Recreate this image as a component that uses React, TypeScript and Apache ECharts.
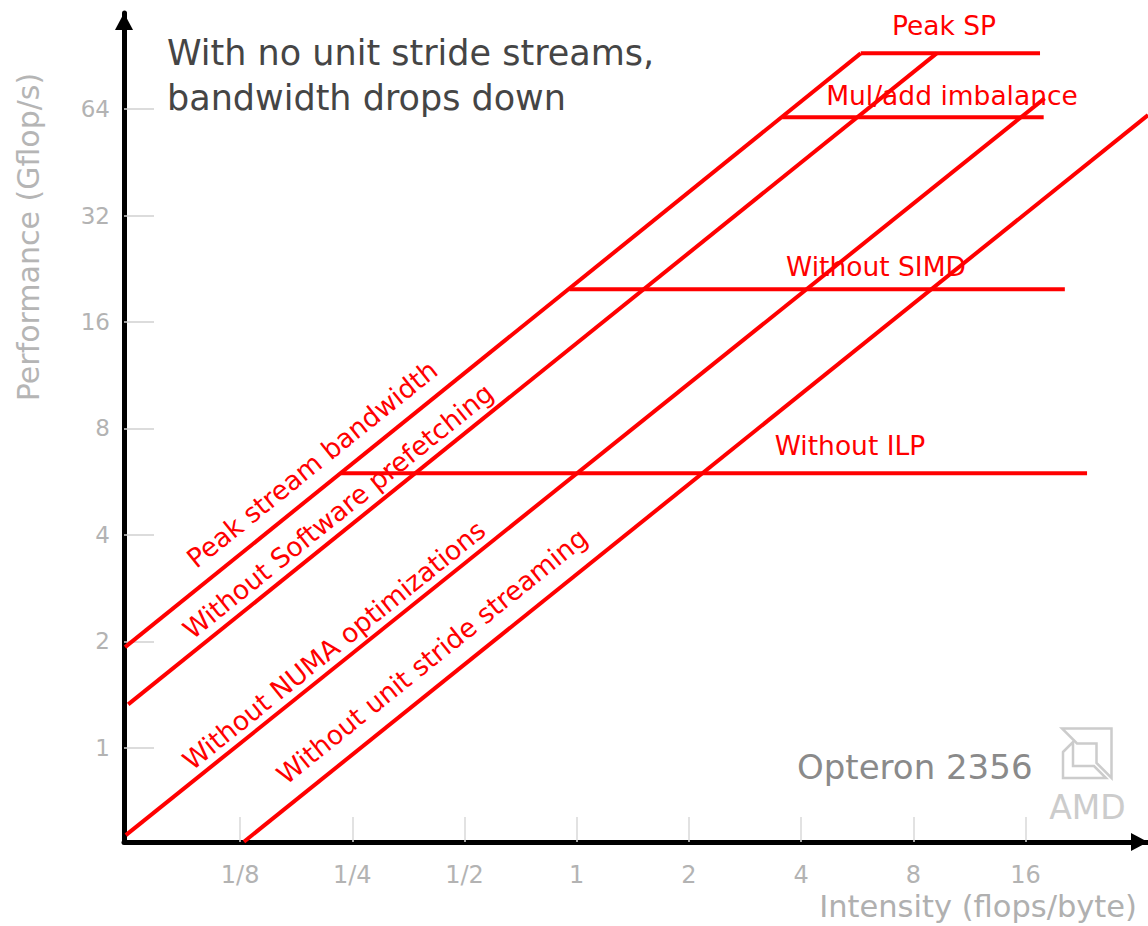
import React, { useEffect, useRef } from "react";
import * as echarts from "echarts";

// Axis ticks (real units, log2 scale)
const intensityTicks = [0.125, 0.25, 0.5, 1, 2, 4, 8, 16];
const performanceTicks = [1, 2, 4, 8, 16, 32, 64];
const intensityRange = [0.061, 34.1];
const performanceRange = [0.541, 119.8];

// Bandwidth ceilings: [intensity (flops/byte), performance (Gflop/s)]
const bandwidthNames = [
  "Peak stream bandwidth",
  "Without Software prefetching",
  "Without NUMA optimizations",
  "Without unit stride streaming",
];
const bandwidthFrom = [
  [0.0614, 1.925],
  [0.0626, 1.326],
  [0.0617, 0.566],
  [0.128, 0.542],
];
const bandwidthTo = [
  [5.78, 92.1],
  [9.24, 92.1],
  [18.0, 68.7],
  [34.1, 61.6],
];

// In-core ceilings
const ceilingNames = ["Peak SP", "Mul/add imbalance", "Without SIMD", "Without ILP"];
const ceilingPerformance = [92.1, 60.7, 19.8, 5.98];
const ceilingFrom = [5.78, 3.56, 0.956, 0.2325];
const ceilingTo = [17.5, 17.9, 20.4, 23.4];

const FONT = "DejaVu Sans";
const RED = "#ff0000";
const lg = Math.log2;

function tickText(v: number): string {
  const p = Math.round(v);
  return p < 0 ? `1/${2 ** -p}` : String(2 ** p);
}

// label placement for the diagonal and horizontal ceilings (pixels)
const bandwidthLabelAt = [
  [312, 464],
  [338, 511],
  [334, 645],
  [432, 656],
];
const ceilingLabelAt = [
  [944, 25],
  [952, 95],
  [876, 266],
  [850, 445],
];

export default function App() {
  const ref = useRef<HTMLDivElement>(null);

  useEffect(() => {
    document.body.style.margin = "0";
    if (!ref.current) return;
    const chart = echarts.init(ref.current, null, { renderer: "svg" });

    const lineSeries: any[] = [];
    bandwidthNames.forEach((name, i) => {
      lineSeries.push({
        type: "line",
        name,
        data: [
          [lg(bandwidthFrom[i][0]), lg(bandwidthFrom[i][1])],
          [lg(bandwidthTo[i][0]), lg(bandwidthTo[i][1])],
        ],
        symbol: "none",
        clip: false,
        lineStyle: { color: RED, width: 4 },
        silent: true,
      });
    });
    ceilingNames.forEach((name, i) => {
      lineSeries.push({
        type: "line",
        name,
        data: [
          [lg(ceilingFrom[i]), lg(ceilingPerformance[i])],
          [lg(ceilingTo[i]), lg(ceilingPerformance[i])],
        ],
        symbol: "none",
        clip: false,
        lineStyle: { color: RED, width: 4 },
        silent: true,
      });
    });

    const angle = (38.8 * Math.PI) / 180;
    const graphics: any[] = [];
    bandwidthNames.forEach((name, i) => {
      graphics.push({
        type: "text",
        x: bandwidthLabelAt[i][0],
        y: bandwidthLabelAt[i][1],
        rotation: angle,
        style: {
          text: name,
          fill: RED,
          font: `26.5px "${FONT}"`,
          align: "center",
          verticalAlign: "middle",
        },
      });
    });
    ceilingNames.forEach((name, i) => {
      graphics.push({
        type: "text",
        x: ceilingLabelAt[i][0],
        y: ceilingLabelAt[i][1],
        style: {
          text: name,
          fill: RED,
          font: `26.5px "${FONT}"`,
          align: "center",
          verticalAlign: "middle",
        },
      });
    });

    const logoStyle = { fill: "none", stroke: "#cccccc", lineWidth: 2.5 };
    graphics.push(
      {
        type: "text",
        left: 167,
        top: 30,
        style: {
          text: "With no unit stride streams,\nbandwidth drops down",
          fill: "#454545",
          font: `35px "${FONT}"`,
          lineHeight: 45,
        },
      },
      {
        type: "text",
        x: 28,
        y: 237,
        rotation: Math.PI / 2,
        style: {
          text: "Performance (Gflop/s)",
          fill: "#b5b5b5",
          font: `30px "${FONT}"`,
          align: "center",
          verticalAlign: "middle",
        },
      },
      {
        type: "text",
        x: 1137,
        y: 906,
        style: {
          text: "Intensity (flops/byte)",
          fill: "#b0b0b0",
          font: `30.5px "${FONT}"`,
          align: "right",
          verticalAlign: "middle",
        },
      },
      {
        type: "text",
        x: 797,
        y: 767,
        style: {
          text: "Opteron 2356",
          fill: "#8a8a8a",
          font: `34px "${FONT}"`,
          align: "left",
          verticalAlign: "middle",
        },
      },
      {
        type: "text",
        x: 1087.5,
        y: 807,
        style: {
          text: "AMD",
          fill: "#cccccc",
          font: `33px "${FONT}"`,
          align: "center",
          verticalAlign: "middle",
        },
      },
      {
        type: "polygon",
        shape: {
          points: [
            [1062, 728.5],
            [1111.5, 728.5],
            [1111.5, 778],
            [1096.5, 763],
            [1096.5, 743.5],
            [1077, 743.5],
          ],
        },
        style: logoStyle,
      },
      {
        type: "polygon",
        shape: {
          points: [
            [1063, 752],
            [1073, 742],
            [1073, 766],
            [1094, 766],
            [1106, 778],
            [1063, 778],
          ],
        },
        style: logoStyle,
      }
    );

    chart.setOption({
      animation: false,
      backgroundColor: "#ffffff",
      grid: {
        left: 124,
        right: 0,
        top: 13,
        bottom: 84,
        containLabel: false,
        outerBoundsMode: "none",
      },
      xAxis: {
        type: "value",
        min: lg(intensityRange[0]),
        max: lg(intensityRange[1]),
        splitLine: { show: false },
        axisLine: {
          onZero: false,
          lineStyle: { color: "#000000", width: 5 },
          symbol: ["none", "triangle"],
          symbolSize: [18, 17],
          symbolOffset: [0, -8.5],
        },
        axisTick: {
          inside: true,
          length: 25,
          customValues: intensityTicks.map(lg),
          lineStyle: { color: "#d8d8d8", width: 1.5 },
        },
        axisLabel: {
          customValues: intensityTicks.map(lg),
          formatter: (v: number) => tickText(v),
          color: "#b3b3b3",
          fontFamily: FONT,
          fontSize: 24,
          margin: 21,
        },
      },
      yAxis: {
        type: "value",
        min: lg(performanceRange[0]),
        max: lg(performanceRange[1]),
        splitLine: { show: false },
        axisLine: {
          onZero: false,
          lineStyle: { color: "#000000", width: 5 },
          symbol: ["none", "triangle"],
          symbolSize: [18, 17],
          symbolOffset: [0, -8.5],
        },
        axisTick: {
          inside: true,
          length: 30,
          customValues: performanceTicks.map(lg),
          lineStyle: { color: "#d0d0d0", width: 1.5 },
        },
        axisLabel: {
          customValues: performanceTicks.map(lg),
          formatter: (v: number) => tickText(v),
          color: "#b3b3b3",
          fontFamily: FONT,
          fontSize: 23,
          margin: 14,
        },
      },
      series: lineSeries,
      graphic: graphics,
    });

    return () => chart.dispose();
  }, []);

  return <div ref={ref} style={{ width: 1148, height: 926 }} />;
}
